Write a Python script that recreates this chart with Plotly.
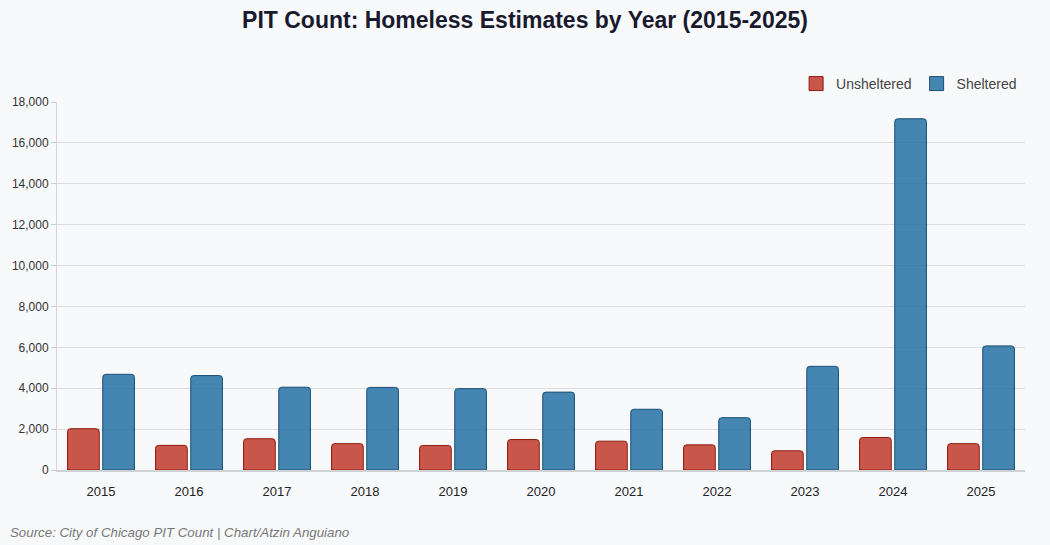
import plotly.graph_objects as go

years = ["2015", "2016", "2017", "2018", "2019", "2020", "2021", "2022", "2023", "2024", "2025"]
unsheltered = [2020, 1205, 1530, 1290, 1200, 1490, 1410, 1230, 940, 1590, 1290]
sheltered = [4680, 4620, 4050, 4040, 3980, 3810, 2970, 2560, 5070, 17180, 6070]
y_ticks = [0, 2000, 4000, 6000, 8000, 10000, 12000, 14000, 16000, 18000]

red_fill, red_line = "rgba(192,57,43,0.85)", "#8e1b10"
blue_fill, blue_line = "rgba(36,113,163,0.85)", "#1a4f75"

fig = go.Figure()
fig.add_trace(go.Bar(
    x=years, y=unsheltered, name="Unsheltered", showlegend=False, legendgroup="u",
    marker=dict(color=red_fill, line=dict(color=red_line, width=1), cornerradius=3),
))
fig.add_trace(go.Bar(
    x=years, y=sheltered, name="Sheltered", showlegend=False, legendgroup="s",
    marker=dict(color=blue_fill, line=dict(color=blue_line, width=1), cornerradius=3),
))
# legend entries with square swatches
fig.add_trace(go.Scatter(x=[None], y=[None], mode="markers", name="Unsheltered", legendgroup="u",
                         marker=dict(symbol="square", size=14, color=red_fill, line=dict(color=red_line, width=1))))
fig.add_trace(go.Scatter(x=[None], y=[None], mode="markers", name="Sheltered", legendgroup="s",
                         marker=dict(symbol="square", size=14, color=blue_fill, line=dict(color=blue_line, width=1))))

fig.update_layout(
    width=1050, height=545,
    paper_bgcolor="#f8f9fb", plot_bgcolor="#f8f9fb",
    font=dict(family="Liberation Sans, Arial, sans-serif", color="#333", size=12),
    title=dict(text="<b>PIT Count: Homeless Estimates by Year (2015-2025)</b>",
               x=0.5, xanchor="center", y=0.963, yanchor="middle",
               font=dict(size=23, color="#1a1a2e")),
    margin=dict(l=57, r=25, t=102, b=75),
    barmode="group", bargap=0.2, bargroupgap=0.1,
    legend=dict(orientation="h", x=0.997, xanchor="right", y=1.049, yanchor="middle",
                font=dict(size=14, color="#444"), itemwidth=30, bgcolor="rgba(0,0,0,0)"),
    showlegend=True,
)
fig.update_yaxes(range=[0, 18000], tickvals=y_ticks, tickformat=",", gridcolor="#dcdde1",
                 showline=True, linecolor="#d5d6da", ticks="outside", ticklen=5, tickcolor="#ccc",
                 zeroline=False, tickfont=dict(size=12, color="#333"))
fig.update_xaxes(showline=True, linecolor="#d0d1d5", linewidth=2, tickfont=dict(size=13, color="#222"),
                 ticks="", ticklabelstandoff=8)
fig.add_annotation(text="<i>Source: City of Chicago PIT Count | Chart/Atzin Anguiano</i>",
                   xref="paper", yref="paper", x=-0.051, y=-0.17, xanchor="left", yanchor="middle",
                   showarrow=False, font=dict(size=13.3, color="#777"))

fig.write_html("out.html", config={"displayModeBar": False},
               post_script="document.body.style.margin='0';document.body.style.background='#f8f9fb';")
